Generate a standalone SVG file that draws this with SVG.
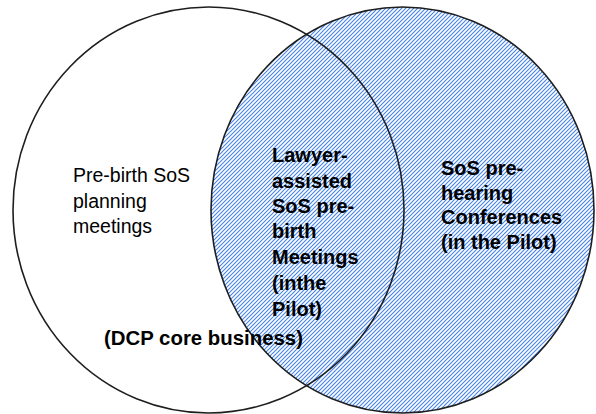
<svg xmlns="http://www.w3.org/2000/svg" width="596" height="414" viewBox="0 0 596 414">
  <defs>
    <clipPath id="pilotClip">
      <ellipse cx="402.5" cy="210" rx="191.5" ry="203"/>
    </clipPath>
  </defs>
  <style>
    .ring { fill: none; stroke: #1e1e1e; stroke-width: 1.6; }
    .hatch { fill: none; stroke: #4684ea; stroke-width: 1.1; }
    .lbl { font-family: "Liberation Sans", Arial, sans-serif; font-size: 19.5px; fill: #000; }
    .bold { font-weight: bold; font-size: 20px; }
  </style>
  <rect width="596" height="414" fill="#fff"/>

  <!-- Pilot set: circle filled with diagonal hatching, 4px pitch -->
  <g id="pilot-set" clip-path="url(#pilotClip)">
    <path class="hatch" d="M-92,414
      l414-414m-410 414l414-414m-410 414l414-414m-410 414l414-414m-410 414l414-414m-410 414l414-414m-410 414l414-414m-410 414l414-414m-410 414l414-414m-410 414l414-414m-410 414
      l414-414m-410 414l414-414m-410 414l414-414m-410 414l414-414m-410 414l414-414m-410 414l414-414m-410 414l414-414m-410 414l414-414m-410 414l414-414m-410 414l414-414m-410 414
      l414-414m-410 414l414-414m-410 414l414-414m-410 414l414-414m-410 414l414-414m-410 414l414-414m-410 414l414-414m-410 414l414-414m-410 414l414-414m-410 414l414-414m-410 414
      l414-414m-410 414l414-414m-410 414l414-414m-410 414l414-414m-410 414l414-414m-410 414l414-414m-410 414l414-414m-410 414l414-414m-410 414l414-414m-410 414l414-414m-410 414
      l414-414m-410 414l414-414m-410 414l414-414m-410 414l414-414m-410 414l414-414m-410 414l414-414m-410 414l414-414m-410 414l414-414m-410 414l414-414m-410 414l414-414m-410 414
      l414-414m-410 414l414-414m-410 414l414-414m-410 414l414-414m-410 414l414-414m-410 414l414-414m-410 414l414-414m-410 414l414-414m-410 414l414-414m-410 414l414-414m-410 414
      l414-414m-410 414l414-414m-410 414l414-414m-410 414l414-414m-410 414l414-414m-410 414l414-414m-410 414l414-414m-410 414l414-414m-410 414l414-414m-410 414l414-414m-410 414
      l414-414m-410 414l414-414m-410 414l414-414m-410 414l414-414m-410 414l414-414m-410 414l414-414m-410 414l414-414m-410 414l414-414m-410 414l414-414m-410 414l414-414m-410 414
      l414-414m-410 414l414-414m-410 414l414-414m-410 414l414-414m-410 414l414-414m-410 414l414-414m-410 414l414-414m-410 414l414-414m-410 414l414-414m-410 414l414-414m-410 414
      l414-414m-410 414l414-414m-410 414l414-414m-410 414l414-414m-410 414l414-414m-410 414l414-414m-410 414l414-414m-410 414l414-414m-410 414l414-414m-410 414l414-414m-410 414
      l414-414m-410 414l414-414m-410 414l414-414m-410 414l414-414m-410 414l414-414m-410 414l414-414m-410 414l414-414m-410 414l414-414m-410 414l414-414m-410 414l414-414m-410 414
      l414-414m-410 414l414-414m-410 414l414-414m-410 414l414-414m-410 414l414-414m-410 414l414-414m-410 414l414-414m-410 414l414-414m-410 414l414-414m-410 414l414-414m-410 414
      l414-414m-410 414l414-414m-410 414l414-414m-410 414l414-414m-410 414l414-414m-410 414l414-414m-410 414l414-414m-410 414l414-414m-410 414l414-414m-410 414l414-414m-410 414
      l414-414m-410 414l414-414m-410 414l414-414m-410 414l414-414m-410 414l414-414m-410 414l414-414m-410 414l414-414m-410 414l414-414m-410 414l414-414m-410 414l414-414m-410 414
      l414-414m-410 414l414-414m-410 414l414-414m-410 414l414-414m-410 414l414-414m-410 414l414-414m-410 414l414-414m-410 414l414-414m-410 414l414-414m-410 414l414-414m-410 414
      l414-414"/>
  </g>

  <!-- Connectors: circle outlines -->
  <g id="connectors">
    <ellipse class="ring" cx="208.5" cy="210" rx="195.5" ry="203"/>
    <ellipse class="ring" cx="402.5" cy="210" rx="191.5" ry="203"/>
  </g>

  <g id="dcp-set">
    <text class="lbl" x="73" y="182">Pre-birth SoS</text>
    <text class="lbl" x="73" y="208">planning</text>
    <text class="lbl" x="73" y="233">meetings</text>
  </g>

  <g id="overlap">
    <text class="lbl bold" x="272" y="162">Lawyer-</text>
    <text class="lbl bold" x="272" y="188">assisted</text>
    <text class="lbl bold" x="272" y="213">SoS pre-</text>
    <text class="lbl bold" x="272" y="238">birth</text>
    <text class="lbl bold" x="272" y="264">Meetings</text>
    <text class="lbl bold" x="272" y="290">(inthe</text>
    <text class="lbl bold" x="272" y="316">Pilot)</text>
  </g>

  <g id="pilot-label">
    <text class="lbl bold" x="441" y="175">SoS pre-</text>
    <text class="lbl bold" x="441" y="200">hearing</text>
    <text class="lbl bold" x="441" y="224">Conferences</text>
    <text class="lbl bold" x="441" y="249">(in the Pilot)</text>
  </g>

  <g id="dcp-caption">
    <text class="lbl bold" x="104" y="345" textLength="199" lengthAdjust="spacingAndGlyphs">(DCP core business)</text>
  </g>
</svg>
